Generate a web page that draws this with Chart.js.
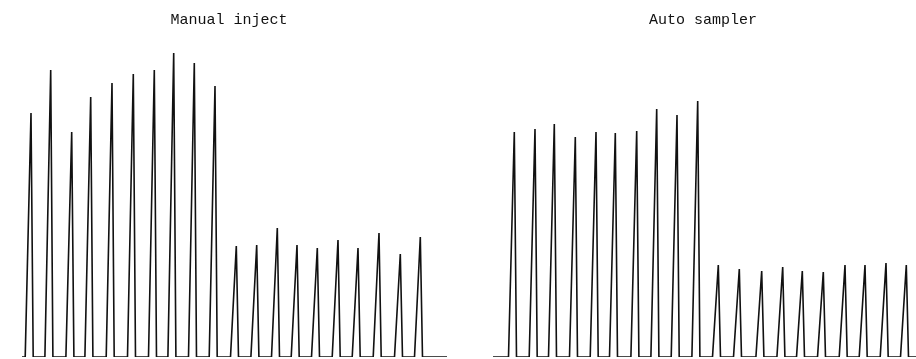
<!DOCTYPE html>
<html>
<head>
<meta charset="utf-8">
<title>Manual inject vs Auto sampler</title>
<script src="https://cdn.jsdelivr.net/npm/chart.js@4.4.1/dist/chart.umd.min.js"></script>
<style>
  html, body { margin: 0; padding: 0; background: #fff; }
  .row { display: flex; width: 916px; height: 359px; }
  .panel { width: 458px; height: 359px; }
</style>
</head>
<body>
<div class="row">
  <div class="panel"><canvas id="manual-chart" width="458" height="359"></canvas></div>
  <div class="panel"><canvas id="auto-chart" width="458" height="359"></canvas></div>
</div>
<script>
// ===================== Data =====================
// retention time of each injection (min) and peak height (mV)
const manualTimes = [3.10, 5.07, 7.17, 9.07, 11.20, 13.33, 15.43, 17.37, 19.43, 21.50,
                     23.63, 25.67, 27.73, 29.70, 31.73, 33.80, 35.80, 37.90, 40.03, 42.03];
const manualHeights = [244, 287, 225, 260, 274, 283, 287, 304, 294, 271,
                       111, 112, 129, 112, 109, 117, 109, 124, 103, 120];
const manualRun = [2.2, 44.7]; // start / end of recorded baseline

const autoTimes = [5.63, 7.70, 9.63, 11.73, 13.80, 15.73, 17.87, 19.87, 21.90, 23.97,
                   26.03, 28.13, 30.37, 32.47, 34.43, 36.53, 38.70, 40.70, 42.80, 44.83];
const autoHeights = [225, 228, 233, 220, 225, 224, 226, 248, 242, 256,
                     92, 88, 86, 90, 86, 85, 92, 92, 94, 92];
const autoRun = [3.5, 45.8];

const titles = ['Manual inject', 'Auto sampler'];

// peak foot offsets relative to apex (min): fronting rise, steep tail
const RISE = 0.58;
const FALL = 0.22;

// ===================== Build trace =====================
function buildTrace(times, heights, run) {
  const pts = [{ x: run[0], y: 0 }];
  times.forEach((t, i) => {
    pts.push({ x: t - RISE, y: 0 });
    pts.push({ x: t, y: heights[i] });
    pts.push({ x: t + FALL, y: 0 });
  });
  pts.push({ x: run[1], y: 0 });
  return pts;
}

function traceChart(canvasId, title, trace, xMin, padLeft) {
  return new Chart(document.getElementById(canvasId), {
    type: 'line',
    data: {
      datasets: [{
        data: trace,
        borderColor: '#111',
        borderWidth: 1.6,
        pointRadius: 0,
        tension: 0,
        fill: false,
      }],
    },
    options: {
      responsive: false,
      animation: false,
      devicePixelRatio: 1,
      layout: { padding: { left: padLeft, right: 0, top: 0, bottom: 2 } },
      plugins: {
        legend: { display: false },
        tooltip: { enabled: false },
        title: {
          display: true,
          text: title,
          color: '#111',
          font: { family: 'Liberation Mono', size: 15, weight: 'normal', lineHeight: 1.2 },
          padding: { top: 11, bottom: 11 },
        },
      },
      scales: {
        x: { type: 'linear', min: xMin, max: 45.8, display: false },
        y: { min: 0, max: 317, display: false },
      },
    },
  });
}

traceChart('manual-chart', titles[0], buildTrace(manualTimes, manualHeights, manualRun), 0, 0);
traceChart('auto-chart', titles[1], buildTrace(autoTimes, autoHeights, autoRun), 3.2, 32);
</script>
</body>
</html>
